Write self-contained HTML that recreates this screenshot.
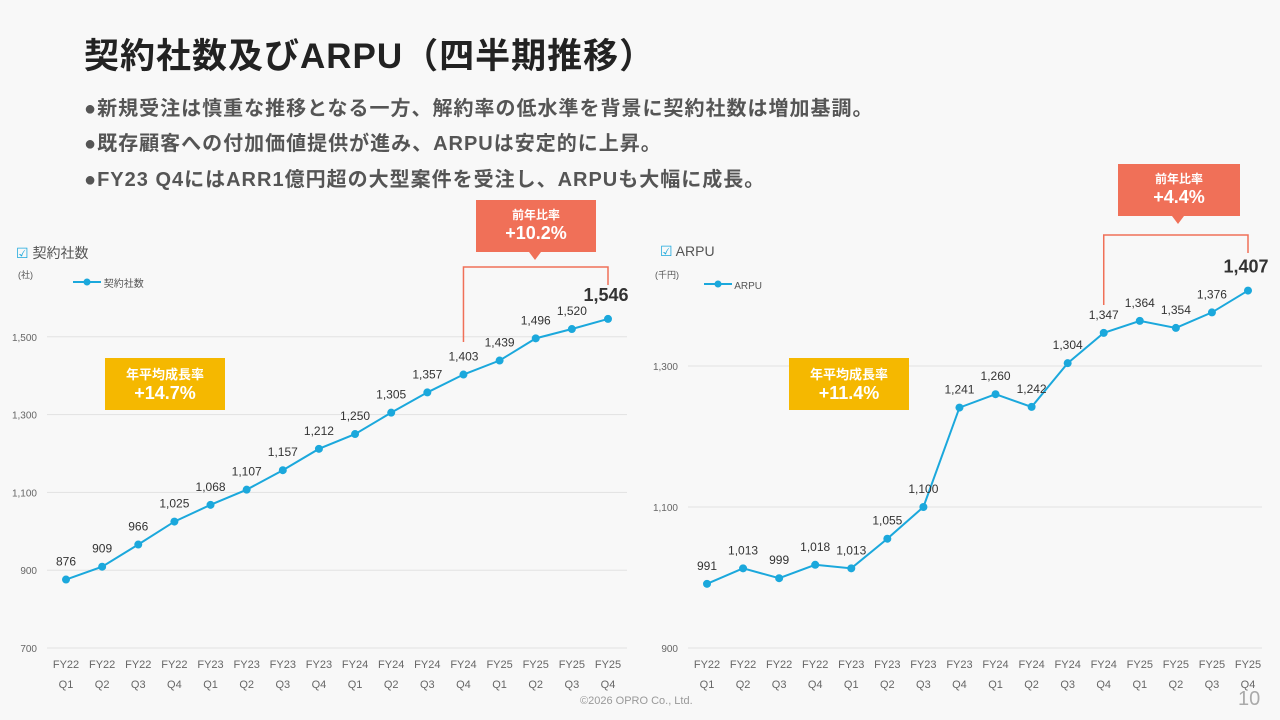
<!DOCTYPE html>
<html><head><meta charset="utf-8">
<style>
body{margin:0;width:1280px;height:720px;overflow:hidden;background:#f8f8f8;font-family:"Liberation Sans","Noto Sans CJK JP",sans-serif;position:relative}
.t{position:absolute;white-space:nowrap}
.b{font-size:20px;font-weight:bold;color:#555;letter-spacing:1px}
</style></head><body>
<div class="t" style="left:84px;top:28px;font-size:35px;font-weight:bold;color:#222;letter-spacing:1px">契約社数及びARPU（四半期推移）</div>
<div class="t b" style="left:84px;top:92px">●新規受注は慎重な推移となる一方、解約率の低水準を背景に契約社数は増加基調。</div>
<div class="t b" style="left:84px;top:127px">●既存顧客への付加価値提供が進み、ARPUは安定的に上昇。</div>
<div class="t b" style="left:84px;top:163px">●FY23 Q4にはARR1億円超の大型案件を受注し、ARPUも大幅に成長。</div>
<div class="t" style="left:580px;top:695px;font-size:11px;color:#999">©2026 OPRO Co., Ltd.</div>
<div class="t" style="left:1238px;top:688px;font-size:20px;color:#aaa">10</div>
<svg id="svg" width="1280" height="720" style="position:absolute;left:0;top:0"></svg>
<script>
const categories=["FY22 Q1","FY22 Q2","FY22 Q3","FY22 Q4","FY23 Q1","FY23 Q2","FY23 Q3","FY23 Q4","FY24 Q1","FY24 Q2","FY24 Q3","FY24 Q4","FY25 Q1","FY25 Q2","FY25 Q3","FY25 Q4"];
const contractValues=[876,909,966,1025,1068,1107,1157,1212,1250,1305,1357,1403,1439,1496,1520,1546];
const arpuValues=[991,1013,999,1018,1013,1055,1100,1241,1260,1242,1304,1347,1364,1354,1376,1407];
const contractTicks=[700,900,1100,1300,1500];
const arpuTicks=[900,1100,1300];
const NS="http://www.w3.org/2000/svg";
const svg=document.getElementById('svg');
function el(tag,attrs,parent,text){const e=document.createElementNS(NS,tag);for(const k in attrs)e.setAttribute(k,attrs[k]);if(text!==undefined)e.textContent=text;(parent||svg).appendChild(e);return e;}
function fmt(v){return v.toLocaleString('en-US');}
function drawChart(cfg){
  const g=el('g',{});
  
  
  const x=i=>cfg.x0+i*(cfg.x1-cfg.x0)/(categories.length-1);
  const y=v=>cfg.yBase-(v-cfg.vBase)*cfg.scale;
  cfg.ticks.forEach(t=>{
    const l=el('line',{x1:cfg.gx0,x2:cfg.gx1,y1:y(t),y2:y(t),stroke:'#e2e2e2','stroke-width':1},g);
    
    const tx=el('text',{x:cfg.gx0-10,y:y(t)+4,'text-anchor':'end','font-size':10,fill:'#666'},g,fmt(t));
    
  });
  categories.forEach((c,i)=>{
    const p=c.split(' ');
    const a=el('text',{x:x(i),y:668,'text-anchor':'middle','font-size':11,fill:'#666'},g,p[0]);
    
    const b=el('text',{x:x(i),y:688,'text-anchor':'middle','font-size':11,fill:'#666'},g,p[1]);
    
  });
  const pts=cfg.values.map((v,i)=>x(i)+','+y(v)).join(' ');
  const pl=el('polyline',{points:pts,fill:'none',stroke:'#1ba8dc','stroke-width':2},g);
  
  cfg.values.forEach((v,i)=>{
    const c=el('circle',{cx:x(i),cy:y(v),r:4,fill:'#1ba8dc'},g);
    
    const last=i===cfg.values.length-1;
    const t=el('text',{x:x(i)-(last?2:0),y:y(v)-(last?18:14),'text-anchor':'middle','font-size':last?18:12,'font-weight':last?'bold':'normal',fill:'#333'},g,fmt(v));
    
  });
  const i0=cfg.values.length-5,i1=cfg.values.length-1;
  const br=el('polyline',{points:`${x(i0)},${cfg.bB} ${x(i0)},${cfg.bT} ${x(i1)},${cfg.bT} ${x(i1)},${cfg.bT+18}`,fill:'none',stroke:'#f07058','stroke-width':1.5},g);
  
}
drawChart({name:'contracts-chart',values:contractValues,ticks:contractTicks,x0:66,x1:608,gx0:47,gx1:627,yBase:648,vBase:700,scale:0.389,bT:267,bB:342});
drawChart({name:'arpu-chart',values:arpuValues,ticks:arpuTicks,x0:707,x1:1248,gx0:688,gx1:1262,yBase:648,vBase:900,scale:0.705,bT:235,bB:305});
</script>
<div class="t" style="left:16px;top:243px;font-size:14px;color:#555"><span style="color:#1ba8dc">☑</span> 契約社数</div>
<div class="t" style="left:18px;top:268px;font-size:9px;color:#555">(社)</div>
<div class="t" style="left:73px;top:275px;font-size:10px;color:#555"><svg width="28" height="10"><line x1="0" y1="5" x2="28" y2="5" stroke="#1ba8dc" stroke-width="2"/><circle cx="14" cy="5" r="3.5" fill="#1ba8dc"/></svg> 契約社数</div>
<div class="t" style="left:660px;top:243px;font-size:14px;color:#555"><span style="color:#1ba8dc">☑</span> ARPU</div>
<div class="t" style="left:655px;top:268px;font-size:9px;color:#555">(千円)</div>
<div class="t" style="left:704px;top:279px;font-size:10px;color:#555"><svg width="28" height="10"><line x1="0" y1="5" x2="28" y2="5" stroke="#1ba8dc" stroke-width="2"/><circle cx="14" cy="5" r="3.5" fill="#1ba8dc"/></svg> ARPU</div>
<div class="t" style="left:105px;top:358px;width:120px;height:52px;background:#f5b800;color:#fff;text-align:center;font-weight:bold"><div style="font-size:13px;margin-top:6px">年平均成長率</div><div style="font-size:18px">+14.7%</div></div>
<div class="t" style="left:789px;top:358px;width:120px;height:52px;background:#f5b800;color:#fff;text-align:center;font-weight:bold"><div style="font-size:13px;margin-top:6px">年平均成長率</div><div style="font-size:18px">+11.4%</div></div>
<div class="t" style="left:476px;top:200px;width:120px;height:52px;background:#f07058;color:#fff;text-align:center;font-weight:bold"><div style="font-size:12px;margin-top:6px">前年比率</div><div style="font-size:18px">+10.2%</div></div>
<div class="t" style="left:529px;top:252px;width:0;height:0;border-left:6px solid transparent;border-right:6px solid transparent;border-top:8px solid #f07058"></div>
<div class="t" style="left:1118px;top:164px;width:122px;height:52px;background:#f07058;color:#fff;text-align:center;font-weight:bold"><div style="font-size:12px;margin-top:6px">前年比率</div><div style="font-size:18px">+4.4%</div></div>
<div class="t" style="left:1172px;top:216px;width:0;height:0;border-left:6px solid transparent;border-right:6px solid transparent;border-top:8px solid #f07058"></div>
</body></html>
